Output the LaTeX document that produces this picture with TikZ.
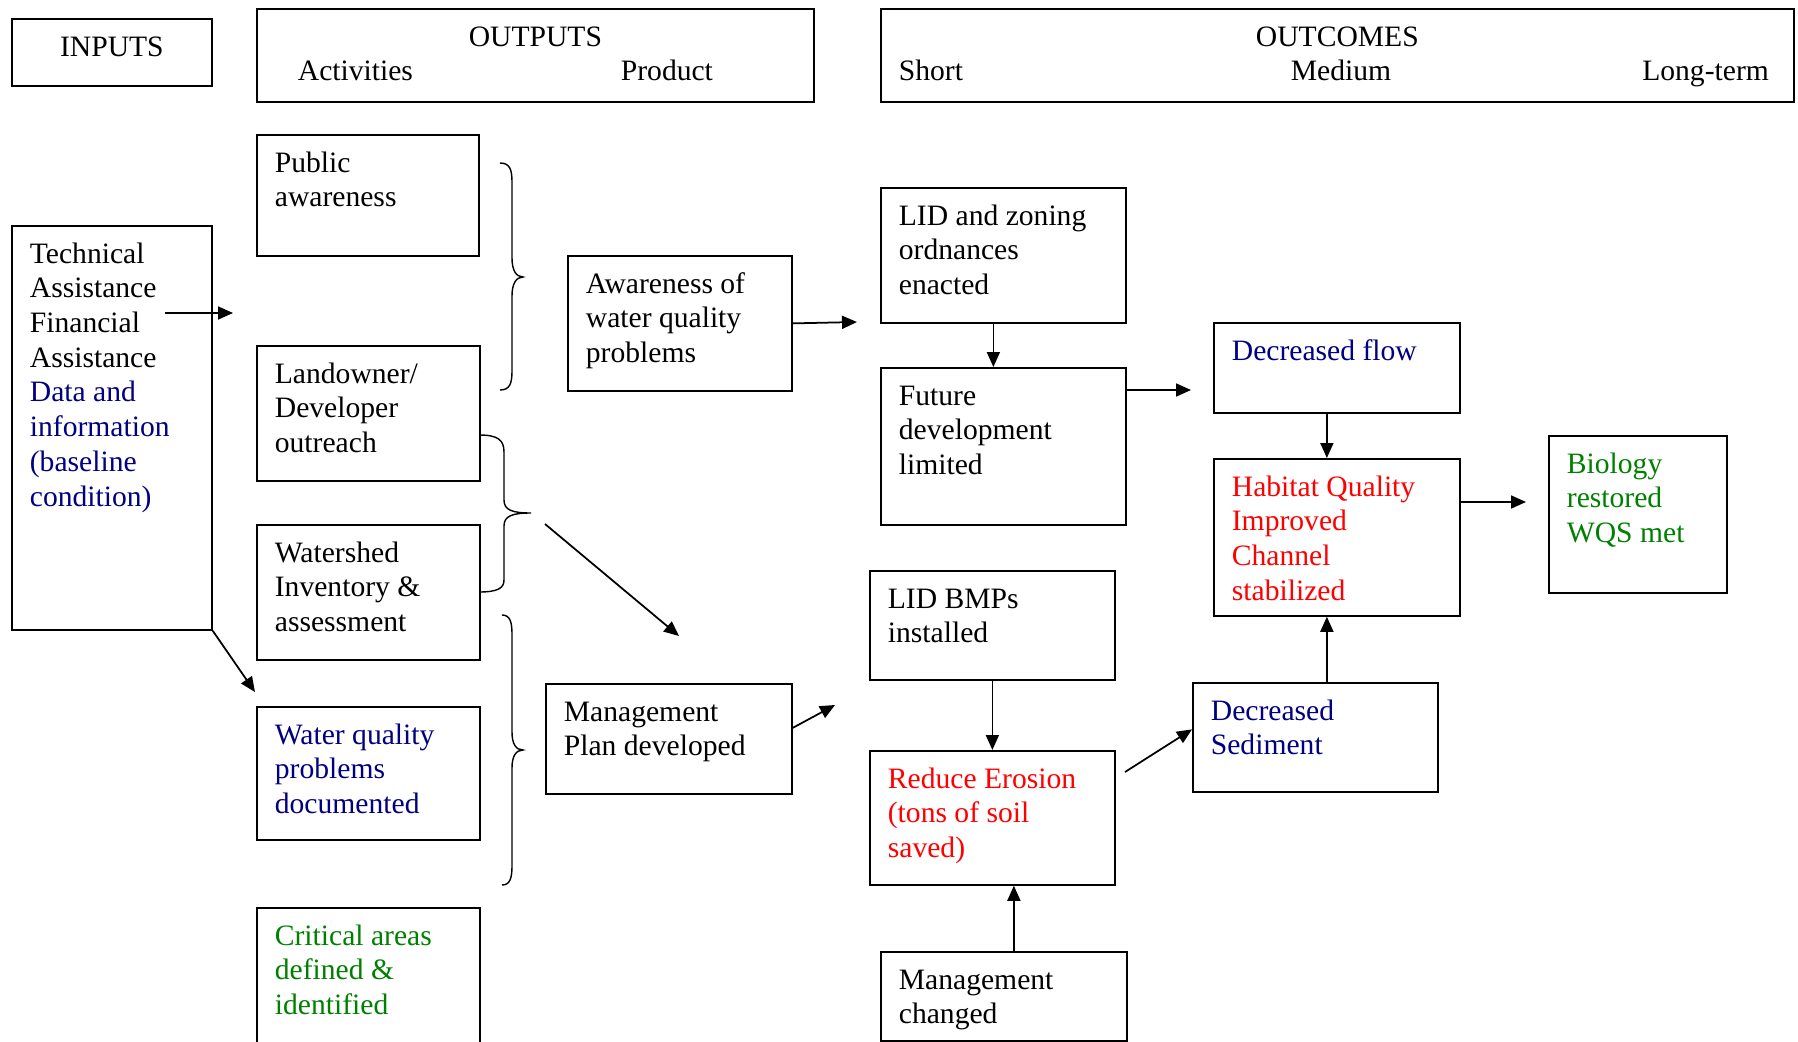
\documentclass[tikz,border=0pt]{standalone}
\usepackage{fontspec}
\setmainfont{Liberation Serif}
\usepackage{tikz}
\usetikzlibrary{arrows.meta}
\definecolor{navy}{RGB}{0,0,128}
\definecolor{leaf}{RGB}{0,128,0}
\newlength{\pxu}\setlength{\pxu}{0.02cm}
\newcommand{\boxtxt}[3]{\parbox[t][#2\pxu][t]{#1\pxu}{\raggedright\strut #3}}
\tikzset{box/.style={draw,line width=1pt,anchor=north west,inner xsep=0.36cm,inner ysep=0.26cm}}
\tikzset{arr/.style={-{Triangle[length=0.3cm,width=0.26cm]},line width=1pt}}
\tikzset{brc/.style={line width=0.8pt}}

\begin{document}
\begin{tikzpicture}[x=0.02cm,y=-0.02cm,font=\fontsize{16.85}{19.75}\selectfont]
    \useasboundingbox (0,0) rectangle (1798,1041);
    \clip (0,0) rectangle (1798,1041);

    % headers
    \node[box] (inputs) at (11,18) {\boxtxt{164}{41}{\centering INPUTS}};
    \node[box] (outputs) at (256,8) {\boxtxt{521}{67}{\centering OUTPUTS\\\makebox[521\pxu][l]{\hspace*{23\pxu}\makebox[323\pxu][l]{Activities}Product}}};
    \node[box] (outcomes) at (880,8) {\boxtxt{877}{67}{\centering OUTCOMES\\\makebox[877\pxu][l]{\makebox[392\pxu][l]{Short}Medium\hfill Long-term\hspace*{7\pxu}}}};

    % inputs and activities
    \node[box] (tech) at (11,225) {\boxtxt{164}{378}{Technical\\Assistance\\Financial\\Assistance\\\color{navy}Data and\\information\\(baseline\\condition)}};
    \node[box] (pub) at (256,134) {\boxtxt{186}{95}{Public\\awareness}};
    \node[box] (land) at (256,345) {\boxtxt{187}{109}{Landowner/\\Developer\\outreach}};
    \node[box] (shed) at (256,524) {\boxtxt{187}{109}{Watershed\\Inventory \&\\assessment}};
    \node[box,text=navy] (wqdoc) at (256,706) {\boxtxt{187}{107}{Water quality\\problems\\documented}};
    \node[box,text=leaf] (crit) at (256,907) {\boxtxt{187}{174}{Critical areas\\defined \&\\identified}};

    % products
    \node[box] (aware) at (567,255) {\boxtxt{188}{109}{Awareness of\\water quality\\problems}};
    \node[box] (plan) at (545,683) {\boxtxt{210}{84}{Management\\Plan developed}};

    % outcomes
    \node[box] (lidzone) at (880,187) {\boxtxt{209}{109}{LID and zoning\\ordnances\\enacted}};
    \node[box] (future) at (880,367) {\boxtxt{209}{131}{Future\\development\\limited}};
    \node[box,text=navy] (flow) at (1213,322) {\boxtxt{210}{64}{Decreased flow}};
    \node[box,text=red] (habitat) at (1213,458) {\boxtxt{210}{131}{Habitat Quality\\Improved\\Channel\\stabilized}};
    \node[box,text=leaf] (bio) at (1548,435) {\boxtxt{142}{131}{Biology\\restored\\WQS met}};
    \node[box] (lidbmp) at (869,570) {\boxtxt{209}{83}{LID BMPs\\installed}};
    \node[box,text=red] (erosion) at (869,750) {\boxtxt{209}{108}{Reduce Erosion\\(tons of soil\\saved)}};
    \node[box] (mgmt) at (880,951) {\boxtxt{210}{63}{Management\\changed}};
    \node[box,text=navy] (sediment) at (1192,682) {\boxtxt{209}{83}{Decreased\\Sediment}};

    % braces
    \draw[brc] (500,163) .. controls (510,163) and (512,170) .. (512,182) -- (512,258)
        .. controls (512,270) and (516,277) .. (523,277) .. controls (516,277) and (512,284) .. (512,296)
        -- (512,371) .. controls (512,383) and (510,390) .. (500,390);
    \draw[brc] (479,435) .. controls (498,435) and (504,440) .. (504,452) -- (504,500)
        .. controls (504,510) and (512,513) .. (531,513) .. controls (512,513) and (504,516) .. (504,526)
        -- (504,580) .. controls (504,588) and (498,592) .. (479,592);
    \draw[brc] (502,615) .. controls (510,615) and (512,622) .. (512,634) -- (512,732)
        .. controls (512,744) and (516,750) .. (523,750) .. controls (516,750) and (512,756) .. (512,768)
        -- (512,866) .. controls (512,878) and (510,885) .. (502,885);

    % arrows
    \coordinate (t1) at (165,313);
    \coordinate (t2) at (233,313);
    \coordinate (t3) at (255,692);
    \coordinate (a1) at (857,322);
    \coordinate (d1) at (545,524);
    \coordinate (d2) at (679,636);
    \coordinate (p1) at (835,705);
    \coordinate (f1) at (1191,390);
    \coordinate (h1) at (1526,502);
    \coordinate (e1) at (1125,772);

    \draw[arr] (t1) -- (t2);
    \draw[arr] (tech.south east) -- (t3);
    \draw[arr] (aware.east) -- (a1);
    \draw[arr] (d1) -- (d2);
    \draw[arr] ([yshift=0.22cm]plan.east) -- (p1);
    \draw[arr] ([xshift=-0.2cm]lidzone.south) -- ([xshift=-0.2cm]future.north);
    \draw[arr] (future.east |- f1) -- (f1);
    \draw[arr] ([xshift=-0.2cm]flow.south) -- ([xshift=-0.2cm]habitat.north);
    \draw[arr] (habitat.east |- h1) -- (h1);
    \draw[arr] (lidbmp.south) -- (erosion.north);
    \draw[arr] ([xshift=0.2cm]mgmt.north) -- ([xshift=0.2cm]mgmt.north |- erosion.south);
    \draw[arr] (e1) -- ([yshift=0.16cm]sediment.west);
    \draw[arr] ([xshift=0.23cm]sediment.north) -- ([xshift=0.23cm]sediment.north |- habitat.south);
\end{tikzpicture}
\end{document}
